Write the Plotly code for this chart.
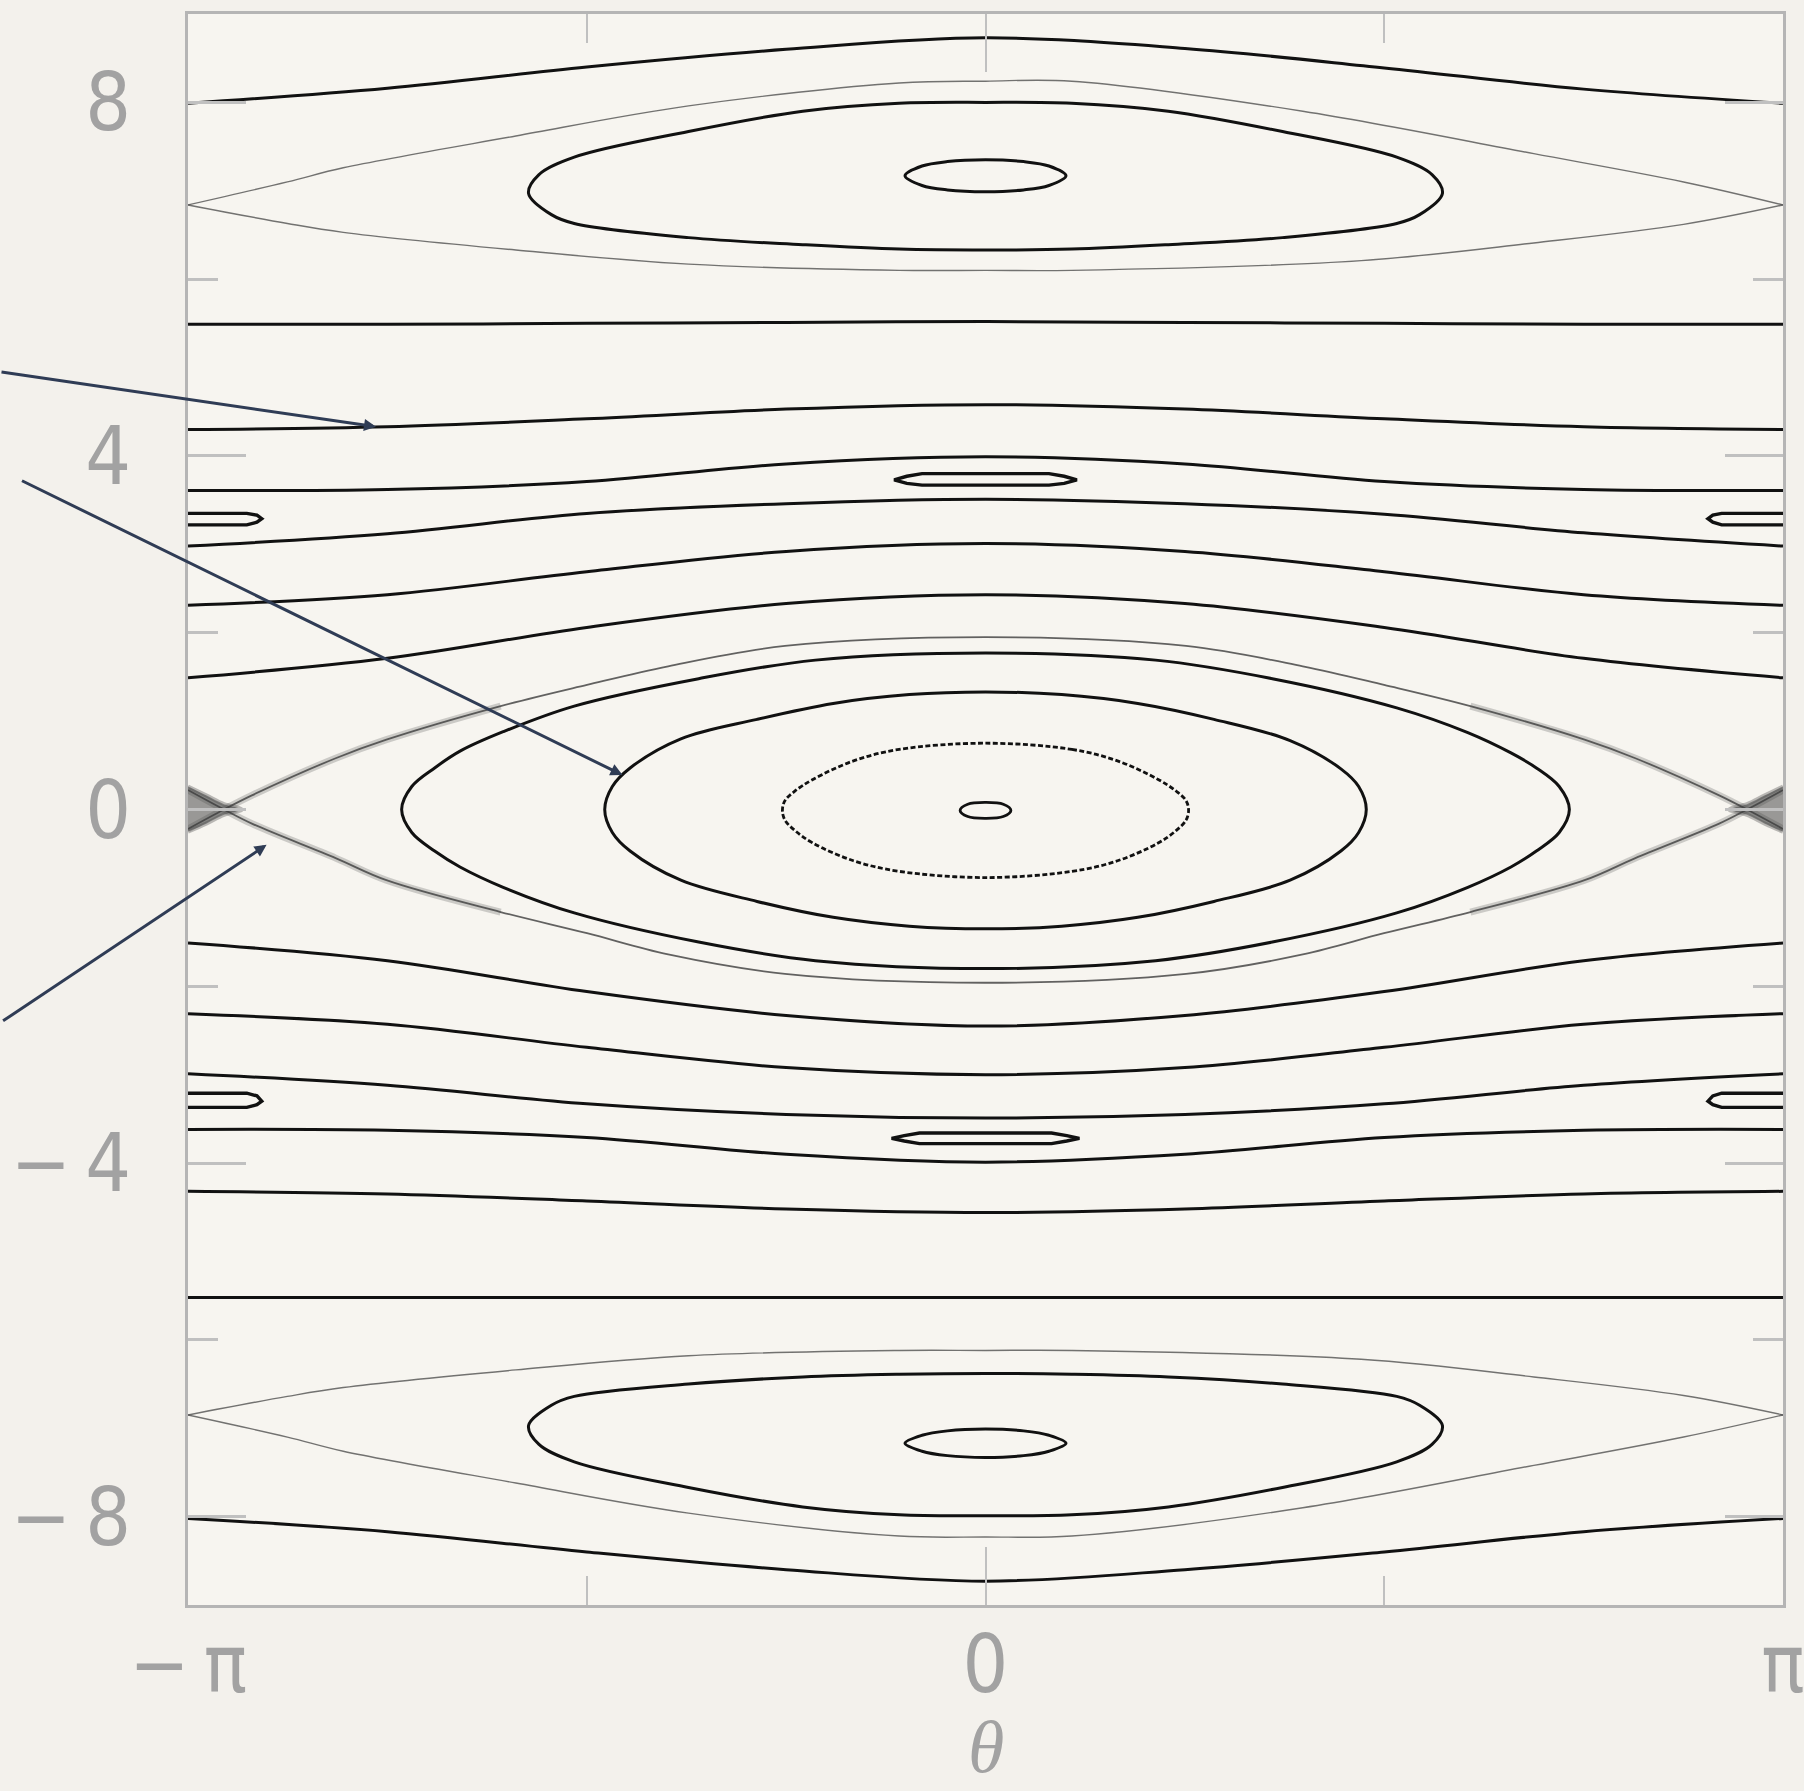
import plotly.graph_objects as go

PI = 3.141592653589793

# ---------------- data (theta, p) ----------------
TH9 = [-PI, -3 * PI / 4, -PI / 2, -PI / 4, 0, PI / 4, PI / 2, 3 * PI / 4, PI]

# rotational (open) curves, p values at TH9
ROT_A = [7.99, 8.16, 8.40, 8.60, 8.73, 8.61, 8.39, 8.15, 7.99]
ROT_B = [5.49, 5.49, 5.50, 5.51, 5.52, 5.51, 5.50, 5.49, 5.49]
ROT_C = [4.30, 4.33, 4.42, 4.53, 4.58, 4.53, 4.42, 4.33, 4.30]
ROT_D = [3.61, 3.62, 3.71, 3.91, 3.99, 3.91, 3.71, 3.62, 3.61]
ROT_E = [2.98, 3.12, 3.35, 3.46, 3.51, 3.46, 3.34, 3.13, 2.98]
ROT_F = [2.31, 2.43, 2.69, 2.92, 3.01, 2.92, 2.69, 2.43, 2.31]
ROT_G = [1.49, 1.71, 2.06, 2.33, 2.43, 2.33, 2.06, 1.71, 1.49]
ROT_G2 = [-1.51, -1.71, -2.06, -2.33, -2.45, -2.33, -2.06, -1.71, -1.51]
ROT_F2 = [-2.31, -2.43, -2.69, -2.92, -3.00, -2.92, -2.69, -2.43, -2.31]
ROT_E2 = [-2.99, -3.12, -3.33, -3.45, -3.49, -3.45, -3.33, -3.12, -2.99]
ROT_D2 = [-3.62, -3.63, -3.71, -3.90, -3.99, -3.90, -3.71, -3.63, -3.62]
ROT_C2 = [-4.32, -4.35, -4.43, -4.52, -4.56, -4.52, -4.43, -4.35, -4.32]
ROT_B2 = [-5.52, -5.52, -5.52, -5.52, -5.52, -5.52, -5.52, -5.52, -5.52]
ROT_A2 = [-8.02, -8.17, -8.40, -8.60, -8.73, -8.60, -8.40, -8.17, -8.02]

# main separatrix (through the X-points at theta = +-pi)
SEP0_TH = [-PI, -3.0, -2.89, -2.56, -2.36, -1.91, -1.57, -1.25, -0.79, 0,
           0.79, 1.25, 1.57, 1.91, 2.36, 2.56, 2.89, 3.0, PI]
SEP0_UP = [-0.22, 0, 0.16, 0.58, 0.79, 1.17, 1.41, 1.62, 1.85, 1.95,
           1.85, 1.62, 1.41, 1.17, 0.79, 0.58, 0.16, 0, -0.22]
SEP0_LO = [0.22, 0, -0.16, -0.55, -0.80, -1.16, -1.40, -1.64, -1.86, -1.96,
           -1.86, -1.64, -1.40, -1.16, -0.80, -0.55, -0.16, 0, 0.22]

# chaotic layer near the X-points (same path as the separatrix, first points)
FUZZ_L_TH = [-PI, -3.0, -2.89, -2.56, -2.36, -1.91]
FUZZ_R_TH = [PI, 3.0, 2.89, 2.56, 2.36, 1.91]
FUZZ_UP = [-0.22, 0, 0.16, 0.58, 0.79, 1.17]
FUZZ_LO = [0.22, 0, -0.16, -0.55, -0.80, -1.16]
BLOB_L_TH = [-PI, -3.07, -3.0, -2.93, -3.0, -3.07, -PI]
BLOB_R_TH = [PI, 3.07, 3.0, 2.93, 3.0, 3.07, PI]
BLOB_P = [0.26, 0.16, 0.06, 0.0, -0.06, -0.16, -0.25]

# closed curves around (0, 0)
H_TH = [0, 0.67, 1.13, 1.62, 1.90, 2.07, 2.17, 2.26, 2.30, 2.26, 2.17, 2.07, 1.90, 1.62, 1.13, 0.67, 0,
        -0.67, -1.13, -1.62, -1.90, -2.07, -2.17, -2.26, -2.30, -2.26, -2.17, -2.07, -1.90, -1.62, -1.13, -0.67, 0]
H_P = [1.77, 1.69, 1.48, 1.15, 0.87, 0.64, 0.47, 0.26, 0.0, -0.26, -0.47, -0.65, -0.88, -1.17, -1.50, -1.71, -1.80,
       -1.71, -1.50, -1.17, -0.88, -0.65, -0.47, -0.26, 0.0, 0.26, 0.47, 0.66, 0.88, 1.17, 1.48, 1.69, 1.77]
I1_TH = [0, 0.30, 0.60, 0.90, 1.20, 1.40, 1.47, 1.50, 1.47, 1.40, 1.20, 0.90, 0.60, 0.30, 0,
         -0.30, -0.60, -0.90, -1.20, -1.40, -1.47, -1.50, -1.47, -1.40, -1.20, -0.90, -0.60, -0.30, 0]
I1_P = [1.33, 1.30, 1.20, 1.02, 0.78, 0.46, 0.26, 0.0, -0.26, -0.47, -0.80, -1.04, -1.22, -1.32, -1.35,
        -1.32, -1.22, -1.04, -0.80, -0.47, -0.26, 0.0, 0.26, 0.47, 0.80, 1.02, 1.20, 1.30, 1.33]
I2_TH = [0, 0.34, 0.52, 0.68, 0.75, 0.79, 0.80, 0.79, 0.75, 0.68, 0.52, 0.34, 0,
         -0.34, -0.52, -0.68, -0.75, -0.79, -0.80, -0.79, -0.75, -0.68, -0.52, -0.34, 0]
I2_P = [0.75, 0.68, 0.55, 0.34, 0.21, 0.10, -0.01, -0.12, -0.24, -0.38, -0.58, -0.70, -0.77,
        -0.70, -0.58, -0.38, -0.24, -0.12, -0.01, 0.10, 0.21, 0.34, 0.55, 0.68, 0.75]
I3_TH = [0, 0.07, 0.10, 0.07, 0, -0.07, -0.10, -0.07, 0]
I3_P = [0.08, 0.06, -0.01, -0.08, -0.10, -0.08, -0.01, 0.06, 0.08]

# upper resonance (p ~ 7.2)
USEP_UP_TH = [-PI, -2.75, -2.53, -1.85, -1.17, -0.34, 0, 0.34, 1.25, 2.16, 2.75, PI]
USEP_UP_P = [6.84, 7.10, 7.26, 7.62, 7.96, 8.22, 8.24, 8.24, 7.90, 7.42, 7.10, 6.84]
USEP_LO_TH = [-PI, -2.75, -2.53, -1.85, -1.17, -0.34, 0, 0.34, 1.48, 2.16, 2.75, PI]
USEP_LO_P = [6.84, 6.63, 6.53, 6.33, 6.17, 6.10, 6.10, 6.10, 6.21, 6.41, 6.62, 6.84]
U1_TH = [0, 0.34, 0.72, 1.17, 1.62, 1.76, 1.80, 1.71, 1.62, 1.17, 0.72, 0.34, 0,
         -0.34, -0.72, -1.17, -1.62, -1.71, -1.80, -1.76, -1.62, -1.17, -0.72, -0.34, 0]
U1_P = [8.00, 7.99, 7.90, 7.67, 7.38, 7.18, 6.97, 6.73, 6.63, 6.47, 6.39, 6.34, 6.33,
        6.34, 6.39, 6.47, 6.63, 6.73, 6.97, 7.18, 7.38, 7.67, 7.90, 7.99, 8.00]
U2_TH = [0, 0.15, 0.25, 0.317, 0.25, 0.15, 0, -0.15, -0.25, -0.317, -0.25, -0.15, 0]
U2_P = [7.35, 7.33, 7.28, 7.17, 7.06, 7.01, 6.99, 7.01, 7.06, 7.17, 7.28, 7.33, 7.35]

# lower resonance (p ~ -7.2)
LSEP_IN_TH = [-PI, -2.75, -2.53, -1.85, -1.17, -0.34, 0, 0.34, 1.48, 2.16, 2.75, PI]
LSEP_IN_P = [-6.85, -6.64, -6.54, -6.34, -6.18, -6.12, -6.12, -6.12, -6.22, -6.42, -6.63, -6.85]
LSEP_OUT_TH = [-PI, -2.75, -2.53, -1.85, -1.17, -0.34, 0, 0.34, 1.25, 2.16, 2.75, PI]
LSEP_OUT_P = [-6.85, -7.10, -7.26, -7.62, -7.96, -8.22, -8.23, -8.22, -7.90, -7.42, -7.10, -6.85]
L1_TH = [0, 0.34, 0.72, 1.17, 1.62, 1.71, 1.80, 1.76, 1.62, 1.17, 0.72, 0.34, 0,
         -0.34, -0.72, -1.17, -1.62, -1.76, -1.80, -1.71, -1.62, -1.17, -0.72, -0.34, 0]
L1_P = [-6.38, -6.39, -6.42, -6.50, -6.64, -6.74, -6.97, -7.18, -7.38, -7.67, -7.89, -7.98, -7.99,
        -7.98, -7.89, -7.67, -7.38, -7.18, -6.97, -6.74, -6.64, -6.50, -6.42, -6.39, -6.38]
L2_TH = [0, 0.15, 0.25, 0.317, 0.25, 0.15, 0, -0.15, -0.25, -0.317, -0.25, -0.15, 0]
L2_P = [-7.01, -7.03, -7.08, -7.17, -7.26, -7.31, -7.33, -7.31, -7.26, -7.17, -7.08, -7.03, -7.01]

# period-2 island chain near p ~ +-3.5
CI_U_TH = [0, 0.25, 0.31, 0.36, 0.31, 0.25, 0, -0.25, -0.31, -0.36, -0.31, -0.25, 0]
CI_U_P = [3.80, 3.80, 3.77, 3.73, 3.69, 3.67, 3.67, 3.67, 3.69, 3.73, 3.77, 3.80, 3.80]
CI_L_TH = [0, 0.26, 0.32, 0.37, 0.32, 0.26, 0, -0.26, -0.32, -0.37, -0.32, -0.26, 0]
CI_L_P = [-3.66, -3.66, -3.69, -3.72, -3.75, -3.78, -3.78, -3.78, -3.75, -3.72, -3.69, -3.66, -3.66]
HI_L_TH = [-PI, -2.91, -2.87, -2.851, -2.87, -2.91, -PI]
HI_R_TH = [PI, 2.90, 2.865, 2.846, 2.865, 2.90, PI]
HI_U_P = [3.35, 3.35, 3.33, 3.29, 3.25, 3.22, 3.22]
HI_D_P = [-3.21, -3.21, -3.24, -3.30, -3.34, -3.37, -3.37]

# axis ticks
X_TICKS = [-PI, 0, PI]
X_TICKTEXT = ["−\u2009π", "0", "π"]
X_MINOR = [-PI / 2, PI / 2]
Y_TICKS = [-8, -4, 0, 4, 8]
Y_TICKTEXT = ["−\u20098", "−\u20094", "0", "4", "8"]
Y_MINOR = [-6, -2, 2, 6]

# arrows: tip (theta, p) and tail offset in pixels
ARROW_TIP_TH = [-2.401, -1.430, -2.832]
ARROW_TIP_P = [4.33, 0.39, -0.40]
ARROW_AX = [-376, -602, -265]
ARROW_AY = [-55, -295, 177]

# ---------------- styles ----------------
BLACK = "#111111"
LW = 3.0
SEP_COLOR = "rgba(70,70,70,0.75)"
LABEL_COLOR = "#a2a2a2"
FONT = "Liberation Sans Narrow, Arial Narrow, DejaVu Sans Condensed, Liberation Sans, sans-serif"

fig = go.Figure()


def add_line(x, y, color=BLACK, width=LW, shape="spline", dash=None, fill=None, fillcolor=None):
    line = dict(color=color, width=width, shape=shape)
    if shape == "spline":
        line["smoothing"] = 1.0
    if dash:
        line["dash"] = dash
    kw = {}
    if fill:
        kw["fill"] = fill
        kw["fillcolor"] = fillcolor
    fig.add_trace(go.Scatter(x=x, y=y, mode="lines", line=line, hoverinfo="skip",
                             showlegend=False, **kw))


# chaotic fuzz around X-points (drawn first, underneath)
for th in (FUZZ_L_TH, FUZZ_R_TH):
    add_line(th, FUZZ_UP, color="rgba(90,90,90,0.28)", width=7)
    add_line(th, FUZZ_LO, color="rgba(90,90,90,0.28)", width=7)
for th in (BLOB_L_TH, BLOB_R_TH):
    add_line(th, BLOB_P, color="rgba(70,70,70,0.35)", width=4, shape="spline",
             fill="toself", fillcolor="rgba(60,60,60,0.5)")

# separatrices (thin grey)
add_line(SEP0_TH, SEP0_UP, color="rgba(60,60,60,0.8)", width=1.8)
add_line(SEP0_TH, SEP0_LO, color="rgba(60,60,60,0.8)", width=1.8)
add_line(USEP_UP_TH, USEP_UP_P, color=SEP_COLOR, width=1.4)
add_line(USEP_LO_TH, USEP_LO_P, color=SEP_COLOR, width=1.4)
add_line(LSEP_IN_TH, LSEP_IN_P, color=SEP_COLOR, width=1.4)
add_line(LSEP_OUT_TH, LSEP_OUT_P, color=SEP_COLOR, width=1.4)

# rotational curves
for vals in (ROT_A, ROT_B, ROT_C, ROT_D, ROT_E, ROT_F, ROT_G,
             ROT_G2, ROT_F2, ROT_E2, ROT_D2, ROT_C2, ROT_B2, ROT_A2):
    add_line(TH9, vals)

# librating curves
add_line(H_TH, H_P)
add_line(I1_TH, I1_P)
add_line(I2_TH, I2_P, width=2.8, dash="5px,2.5px")
add_line(I3_TH, I3_P, width=2.8)
add_line(U1_TH, U1_P)
add_line(U2_TH, U2_P)
add_line(L1_TH, L1_P)
add_line(L2_TH, L2_P)

# small islands
add_line(CI_U_TH, CI_U_P, width=3.4, shape="linear")
add_line(CI_L_TH, CI_L_P, width=3.4, shape="linear")
for th in (HI_L_TH, HI_R_TH):
    add_line(th, HI_U_P, width=3.4, shape="linear")
    add_line(th, HI_D_P, width=3.4, shape="linear")

# arrows
annotations = []
for tx, ty, ax, ay in zip(ARROW_TIP_TH, ARROW_TIP_P, ARROW_AX, ARROW_AY):
    annotations.append(dict(x=tx, y=ty, xref="x", yref="y", text="", showarrow=True,
                            ax=ax, ay=ay, axref="pixel", ayref="pixel",
                            arrowcolor="#2f3c55", arrowwidth=3, arrowhead=2, arrowsize=0.8))
annotations.append(dict(x=0, y=-0.089, xref="x", yref="paper", text="<i>θ</i>", showarrow=False,
                        xanchor="center", yanchor="middle",
                        font=dict(family="Liberation Serif, DejaVu Serif, serif", size=74, color=LABEL_COLOR)))

axis_common = dict(showgrid=False, zeroline=False, showline=True, linecolor="#b5b5b5", linewidth=3,
                   mirror="ticks", ticks="inside", tickcolor="#c0c0c0", automargin=False,
                   tickfont=dict(family=FONT, size=80, color=LABEL_COLOR))

fig.update_layout(
    width=1804, height=1791,
    margin=dict(l=188, r=21, t=14, b=186),
    paper_bgcolor="#f3f1ec", plot_bgcolor="#f7f5f0",
    template="none",
    xaxis=dict(range=[-PI, PI], tickmode="array", tickvals=X_TICKS, ticktext=X_TICKTEXT,
               ticklen=58, tickwidth=2, ticklabelstandoff=-12, ticklabeloverflow="allow",
               minor=dict(tickmode="array", tickvals=X_MINOR, ticklen=29, tickwidth=2,
                          ticks="inside", tickcolor="#c0c0c0"),
               **axis_common),
    yaxis=dict(range=[-9, 9], tickmode="array", tickvals=Y_TICKS, ticktext=Y_TICKTEXT,
               ticklen=58, tickwidth=3, ticklabelstandoff=38,
               minor=dict(tickmode="array", tickvals=Y_MINOR, ticklen=30, tickwidth=3,
                          ticks="inside", tickcolor="#c0c0c0"),
               **axis_common),
    annotations=annotations,
)

fig.write_html("out.html", config={"displayModeBar": False})
